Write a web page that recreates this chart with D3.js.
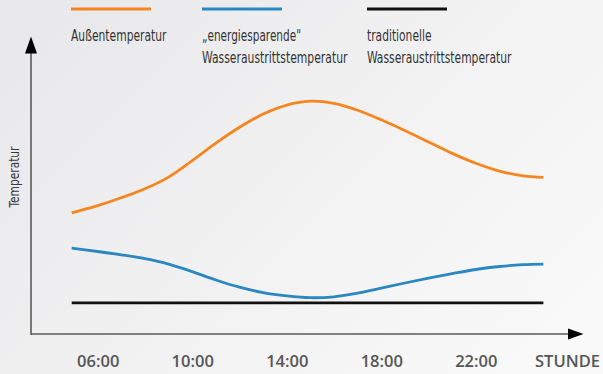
<!DOCTYPE html>
<html>
<head>
<meta charset="utf-8">
<script src="https://cdn.jsdelivr.net/npm/d3@7"></script>
<style>
html,body{margin:0;padding:0;background:#f0eff1;}
svg{display:block;}
</style>
</head>
<body>
<svg id="chart" width="603" height="374"></svg>
<script>
// ---- data ----
const hours = [4.9, 6, 7, 8, 9, 10, 11, 12, 13, 14, 15, 16, 17, 18, 19, 20, 21, 22, 23, 24, 24.86];
const aussen = [40.4, 42.8, 45.4, 48.4, 52.3, 57.8, 63.6, 68.9, 73.3, 76.3, 77.6, 76.9, 74.6, 71.4, 67.8, 64, 60.2, 56.9, 54.3, 52.7, 52.2];
const energiesparend = [28.6, 27.5, 26.4, 25.1, 23.3, 20.8, 18, 15.6, 13.8, 12.7, 12.1, 12.4, 13.6, 15.3, 17, 18.6, 20.1, 21.5, 22.5, 23.1, 23.3];
const traditionell = [10.4, 10.4, 10.4, 10.4, 10.4, 10.4, 10.4, 10.4, 10.4, 10.4, 10.4, 10.4, 10.4, 10.4, 10.4, 10.4, 10.4, 10.4, 10.4, 10.4, 10.4];
const tickHours = [6, 10, 14, 18, 22];
const tickLabels = ["06:00", "10:00", "14:00", "18:00", "22:00"];
const seriesNames = [["Außentemperatur"], ["„energiesparende\"", "Wasseraustrittstemperatur"], ["traditionelle", "Wasseraustrittstemperatur"]];
const seriesColors = ["#f5861f", "#2b87bf", "#111111"];
const xAxisTitle = "STUNDE";
const yAxisTitle = "Temperatur";

const svg = d3.select("#chart");
const W = 603, H = 374;

// background gradient
const defs = svg.append("defs");
const g = defs.append("linearGradient").attr("id", "bg").attr("x1", "0").attr("y1", "0.2").attr("x2", "1").attr("y2", "0.8");
g.append("stop").attr("offset", "0").attr("stop-color", "#e9e8ea");
g.append("stop").attr("offset", "0.6").attr("stop-color", "#f3f3f4");
g.append("stop").attr("offset", "1").attr("stop-color", "#f9f9fa");
svg.append("rect").attr("width", W).attr("height", H).attr("fill", "url(#bg)");

// scales
const x = d3.scaleLinear().domain([6, 22]).range([97.7, 475.8]);
const y = d3.scaleLinear().domain([0, 100]).range([334, 34]);

const axisX0 = 31, axisY0 = y(0);

// axes lines
svg.append("line").attr("x1", axisX0).attr("x2", axisX0).attr("y1", axisY0 + 1).attr("y2", 50)
  .attr("stroke", "#5a5a5a").attr("stroke-width", 1.6);
svg.append("path").attr("d", `M${axisX0 - 6},${53.5} L${axisX0},${36.5} L${axisX0 + 6},${53.5} Z`).attr("fill", "#000");
svg.append("line").attr("x1", axisX0).attr("x2", 570).attr("y1", axisY0).attr("y2", axisY0)
  .attr("stroke", "#5a5a5a").attr("stroke-width", 1.6);
svg.append("path").attr("d", `M568,${axisY0 - 5.5} L583.5,${axisY0} L568,${axisY0 + 5.5} Z`).attr("fill", "#000");

// x axis tick labels
const xAxis = d3.axisBottom(x).tickValues(tickHours).tickSize(0).tickPadding(0)
  .tickFormat((d, i) => tickLabels[i]);
const ax = svg.append("g").attr("transform", `translate(0,${axisY0})`).call(xAxis);
ax.select(".domain").remove();
ax.selectAll("text").attr("y", 33).attr("dy", null)
  .attr("font-family", "'Open Sans', sans-serif").attr("font-weight", 600)
  .attr("font-size", 16.5).attr("fill", "#565656");

svg.append("text").attr("x", 535).attr("y", 367).text(xAxisTitle)
  .attr("font-family", "'Open Sans', sans-serif").attr("font-weight", 600)
  .attr("font-size", 16.5).attr("fill", "#565656").attr("textLength", 65).attr("lengthAdjust", "spacingAndGlyphs");

// y axis title
svg.append("text").attr("transform", "translate(19,177) rotate(-90)").attr("text-anchor", "middle")
  .text(yAxisTitle)
  .attr("font-family", "'Liberation Sans Narrow', 'DejaVu Sans Condensed', sans-serif")
  .attr("font-size", 14).attr("fill", "#3a3a3a").attr("textLength", 61).attr("lengthAdjust", "spacingAndGlyphs");

// lines
const line = d3.line().x((d) => x(d[0])).y((d) => y(d[1])).curve(d3.curveCatmullRom.alpha(0.5));
const allSeries = [aussen, energiesparend, traditionell];
allSeries.forEach((vals, i) => {
  svg.append("path").datum(hours.map((h, j) => [h, vals[j]]))
    .attr("d", line).attr("fill", "none").attr("stroke", seriesColors[i])
    .attr("stroke-width", 2.8);
});

// legend
const legX = [71, 202, 367];
const legW = 80;
const legTextWidths = [[95.5], [99, 145.5], [64.5, 144.5]];
seriesNames.forEach((lines, i) => {
  svg.append("line").attr("x1", legX[i]).attr("x2", legX[i] + legW).attr("y1", 9).attr("y2", 9)
    .attr("stroke", seriesColors[i]).attr("stroke-width", 3);
  lines.forEach((t, k) => {
    svg.append("text").attr("x", legX[i]).attr("y", 40.5 + k * 22).text(t)
      .attr("font-family", "'Liberation Sans Narrow', 'DejaVu Sans Condensed', sans-serif")
      .attr("font-size", 15).attr("fill", "#333")
      .attr("textLength", legTextWidths[i][k]).attr("lengthAdjust", "spacingAndGlyphs");
  });
});
</script>
</body>
</html>
